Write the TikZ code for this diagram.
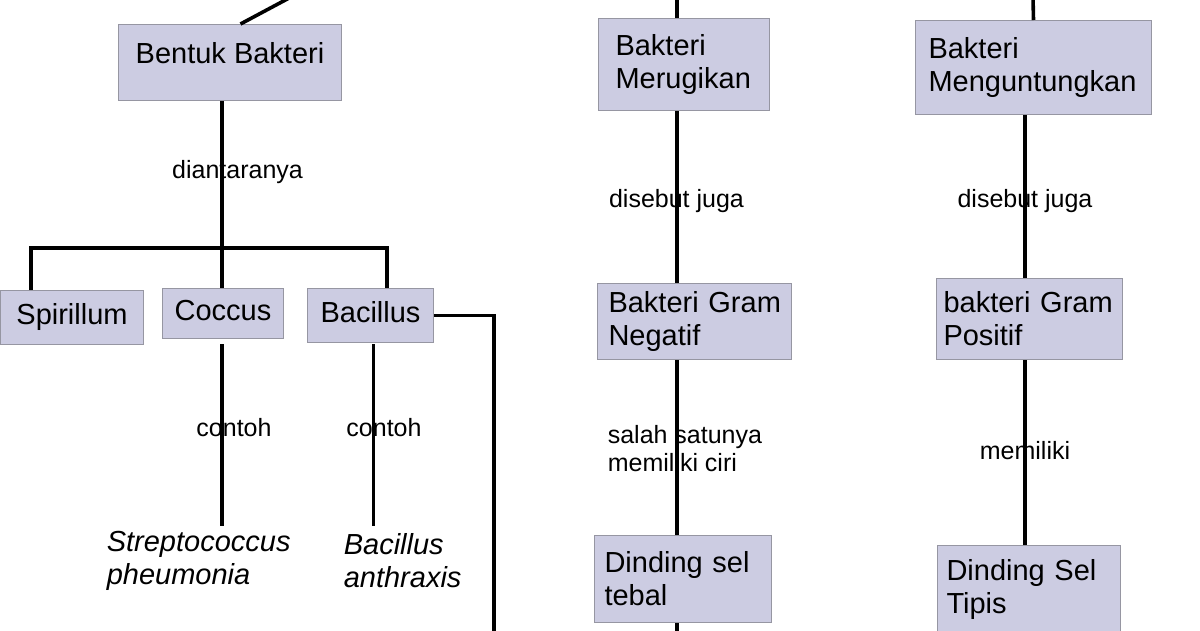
\documentclass[tikz,border=0pt]{standalone}
\usepackage{fontspec}
\setmainfont{Liberation Sans}
\definecolor{isikotak}{RGB}{204,204,226}
\definecolor{tepikotak}{RGB}{150,150,162}

\begin{document}
\begin{tikzpicture}[x=1pt,y=-1pt,line width=3.6pt,-]
  \tikzstyle{kotak}=[draw=tepikotak,line width=1pt,fill=isikotak,anchor=north west,align=left,font=\fontsize{29}{33}\selectfont]
  \tikzstyle{ket}=[font=\fontsize{25}{28}\selectfont,align=left,inner sep=0pt]
  \tikzstyle{contoh}=[font=\itshape\fontsize{29}{33}\selectfont,align=left,inner sep=0pt,anchor=north west]

  \useasboundingbox (0,0) rectangle (1200,630);

  % bentuk bakteri
  \node[kotak,align=center,minimum width=223pt,minimum height=76pt,text height=21pt,text depth=19pt] (bentuk) at (118,24) {Bentuk Bakteri};
  \node[kotak,align=center,minimum width=143pt,minimum height=54pt,text height=21pt,text depth=8pt] (spirillum) at (0,290) {Spirillum};
  \node[kotak,align=center,minimum width=121pt,minimum height=50pt,text height=21pt,text depth=8pt] (coccus) at (162,288) {Coccus};
  \node[kotak,align=center,minimum width=126pt,minimum height=54pt,text height=21pt,text depth=8pt] (bacillus) at (307,288) {Bacillus};

  \node[contoh] (strep) at (105,529) {Streptococcus\\pheumonia};
  \node[contoh] (anthrax) at (342,532) {Bacillus\\anthraxis};

  % bakteri merugikan / menguntungkan
  \node[kotak,minimum height=92pt,text width=137pt,inner xsep=17pt] (rugi) at (598,18) {Bakteri\\Merugikan};
  \node[kotak,minimum height=76pt,text width=172pt,inner xsep=11pt] (negatif) at (597,283) {Bakteri~Gram\\Negatif};
  \node[kotak,minimum height=87pt,text width=157pt,inner xsep=10pt] (tebal) at (594,535) {Dinding~sel\\tebal};

  \node[kotak,minimum height=94pt,text width=210pt,inner xsep=13pt] (untung) at (915,20) {Bakteri\\Menguntungkan};
  \node[kotak,minimum height=81pt,text width=172pt,inner xsep=7pt] (positif) at (936,278) {bakteri~Gram\\Positif};
  \node[kotak,minimum height=88pt,text width=165pt,inner xsep=9pt] (tipis) at (937,545) {Dinding~Sel\\Tipis};

  \coordinate (atasA) at (291,-3);
  \coordinate (atasB) at (677,-3);
  \coordinate (atasC) at (1033,-3);
  \coordinate (kiri) at (31,248);
  \coordinate (cabang) at (222,248);
  \coordinate (kanan) at (387,248);
  \coordinate (bawah) at (494,640);
  \coordinate (garisA) at (677,640);
  \coordinate (garisB) at (1025,0);
  \path ([xshift=3pt]bacillus.south) coordinate (sumbuB);

  \draw ([xshift=10.5pt]bentuk.north) -- (atasA);
  \draw (bentuk.south -| cabang) -- (cabang);
  \draw (spirillum.north -| kiri) -- (kiri) -- (kanan) -- (bacillus.north -| kanan);
  \draw (cabang) -- (coccus.north -| cabang);
  \draw (bacillus.east) -| (bawah);
  \draw[shorten <=5pt,shorten >=3pt] (coccus.south -| cabang) -- (strep.north -| cabang);
  \draw[shorten <=1pt,shorten >=6pt] (sumbuB) -- (anthrax.north -| sumbuB);

  \draw (rugi.north -| atasB) -- (atasB);
  \draw (untung.north) -- (atasC);
  \foreach \dari/\ke in {rugi/negatif, negatif/tebal}
    { \draw (\dari.south -| garisA) -- (\ke.north -| garisA); }
  \draw (tebal.south -| garisA) -- (garisA);
  \foreach \dari/\ke in {untung/positif, positif/tipis}
    { \draw (\dari.south -| garisB) -- (\ke.north -| garisB); }

  % keterangan garis
  \node[ket,anchor=base] (lbl-1) at (237.5,178) {diantaranya};
  \node[ket,anchor=base] (lbl-2) at (234,436) {contoh};
  \node[ket,anchor=base] (lbl-3) at (384,436) {contoh};
  \node[ket,anchor=base] (lbl-4) at (676.5,207) {disebut juga};
  \node[ket,anchor=north west] (lbl-5) at (606,424) {salah satunya\\memiliki ciri};
  \node[ket,anchor=base] (lbl-6) at (1025,207) {disebut juga};
  \node[ket,anchor=base] (lbl-7) at (1025,459) {memiliki};

\end{tikzpicture}
\end{document}
